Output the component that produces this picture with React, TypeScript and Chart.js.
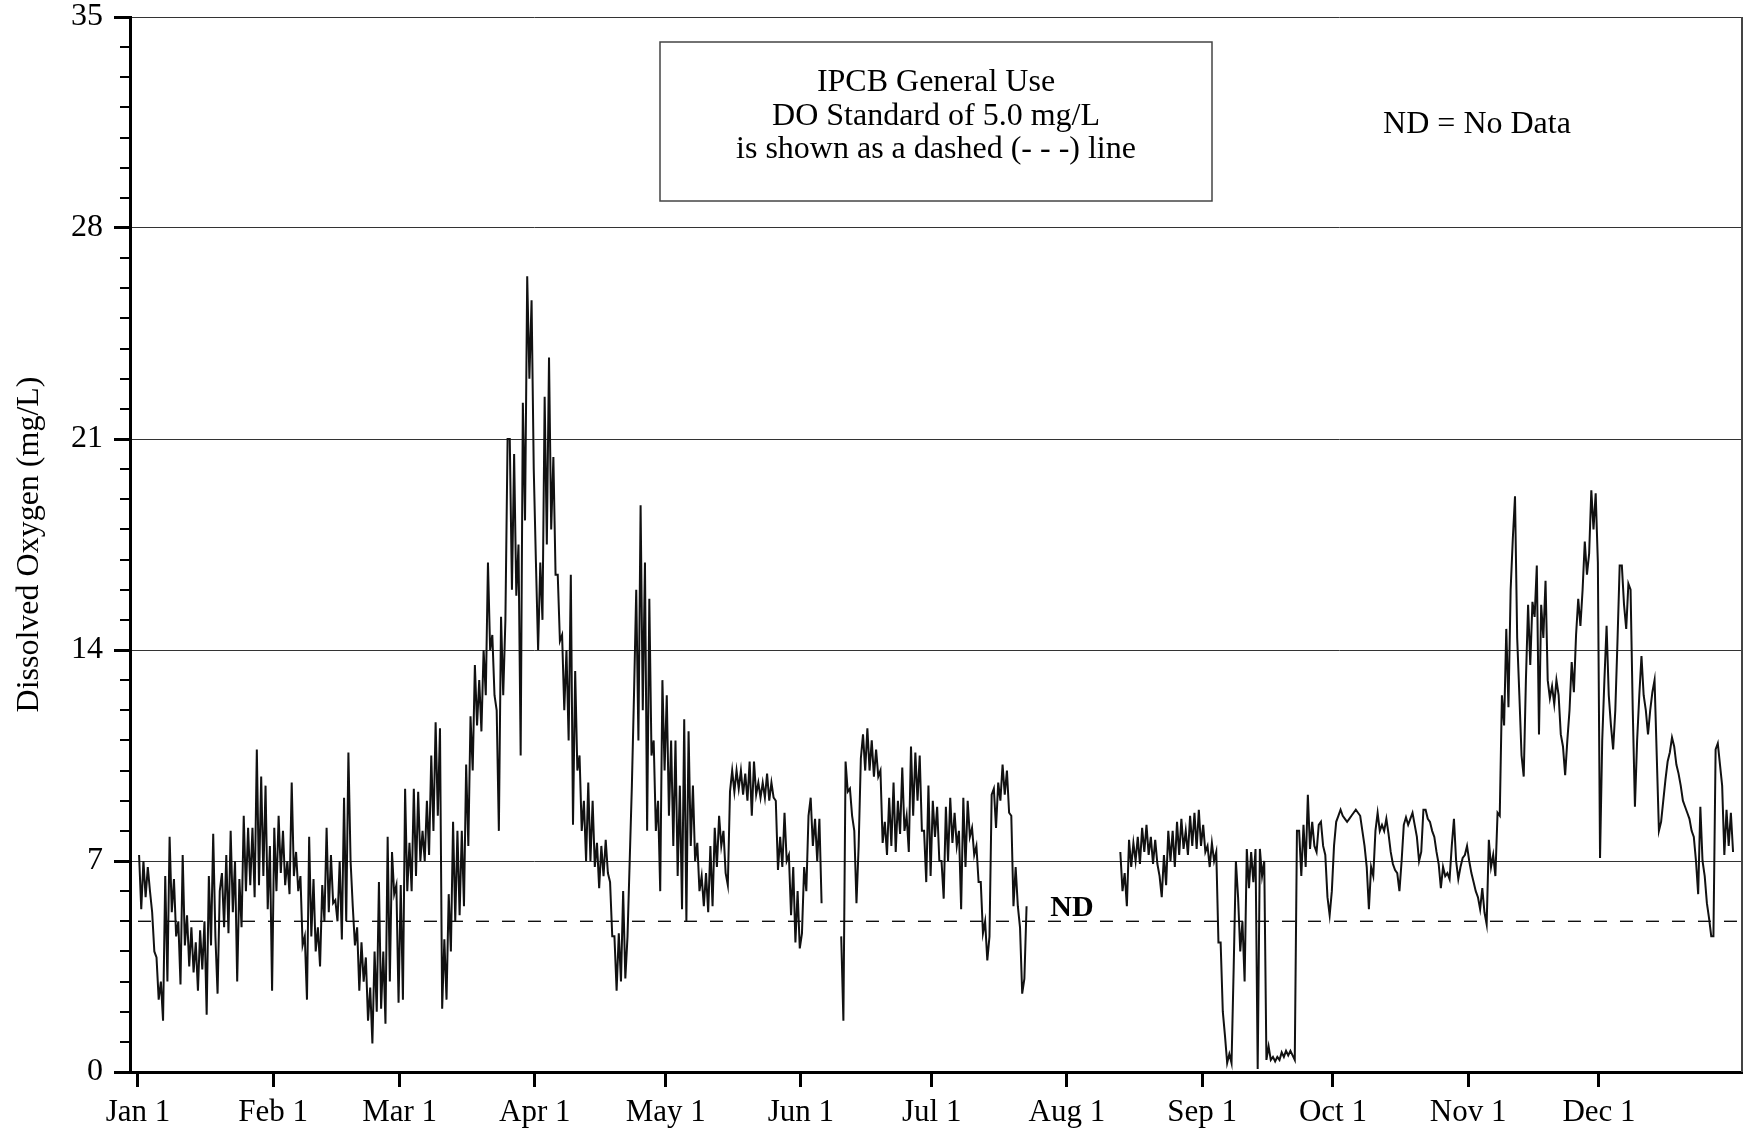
import React, { useEffect, useRef } from 'react';
import { Chart, registerables } from 'chart.js';

Chart.register(...registerables);

type Pair = [number, number] | null;

// Tick labels and positions (day of year, leap year, Jan 1 = day 0)
const monthLabels = ['Jan 1', 'Feb 1', 'Mar 1', 'Apr 1', 'May 1', 'Jun 1', 'Jul 1', 'Aug 1', 'Sep 1', 'Oct 1', 'Nov 1', 'Dec 1'];
const monthStartDays = [0, 31, 60, 91, 121, 152, 182, 213, 244, 274, 305, 335];
const yTickValues = [0, 7, 14, 21, 28, 35];
const doStandard = 5.0;

// Dissolved oxygen (mg/L), two readings per day (morning, evening); null = no data
const janDO: Pair[] = [
  [7.2, 5.4], [7.0, 5.8], [6.8, 6.0], [5.3, 4.0], [3.8, 2.4],
  [3.0, 1.7], [6.5, 3.0], [7.8, 5.3], [6.4, 4.5], [5.0, 2.9],
  [7.2, 4.2], [5.2, 3.5], [4.8, 3.3], [4.3, 2.7], [4.7, 3.4],
  [5.0, 1.9], [6.5, 4.2], [7.9, 4.5], [2.6, 6.0], [6.6, 4.8],
  [7.2, 4.6], [8.0, 5.3], [7.0, 3.0], [6.4, 4.8], [8.5, 6.0],
  [8.1, 6.2], [8.1, 5.8], [10.7, 6.2], [9.8, 6.5], [9.5, 5.4],
  [7.5, 2.7],
];
const febDO: Pair[] = [
  [8.1, 6.0], [8.5, 6.6], [8.0, 6.2], [7.0, 5.9], [9.6, 6.5],
  [7.3, 6.0], [6.5, 4.2], [4.5, 2.4], [7.8, 4.5], [6.4, 4.0],
  [4.8, 3.5], [6.2, 5.0], [8.1, 5.3], [7.2, 5.6], [5.7, 5.0],
  [7.0, 4.4], [9.1, 5.0], [10.6, 7.0], [5.5, 4.2], [4.8, 2.7],
  [4.3, 3.0], [3.8, 1.7], [2.8, 0.95], [4.0, 2.0], [6.3, 2.1],
  [4.0, 1.6], [7.8, 3.0], [7.3, 5.9], [6.2, 2.3],
];
const marDO: Pair[] = [
  [6.2, 2.4], [9.4, 6.0], [7.6, 6.0], [9.4, 6.5], [9.3, 7.0],
  [8.0, 7.0], [9.0, 7.2], [10.5, 8.0], [11.6, 8.5], [11.4, 2.1],
  [4.4, 2.4], [5.9, 4.0], [8.3, 5.0], [8.0, 5.2], [8.0, 5.5],
  [10.2, 7.5], [11.8, 10.0], [13.5, 11.5], [13.0, 11.3], [14.0, 12.5],
  [16.9, 14.0], [14.5, 12.5], [12.0, 8.0], [15.1, 12.5], [15.0, 21.0],
  [21.0, 16.0], [20.5, 15.8], [17.5, 10.5], [22.2, 18.3], [26.4, 23.0],
  [25.6, 20.0],
];
const aprDO: Pair[] = [
  [16.9, 14.0], [16.9, 15.0], [22.4, 17.5], [23.7, 18.0], [20.4, 16.5],
  [16.5, 14.3], [14.5, 12.0], [14.0, 11.0], [16.5, 8.2], [13.3, 10.0],
  [10.5, 8.0], [9.0, 7.0], [9.6, 7.0], [9.0, 6.8], [7.6, 6.1],
  [7.5, 6.5], [7.7, 6.6], [6.3, 4.5], [4.5, 2.7], [4.6, 3.0],
  [6.0, 3.1], [4.5, 7.0], [9.5, 12.6], [16.0, 11.0], [18.8, 12.0],
  [16.9, 8.0], [15.7, 10.5], [11.0, 8.0], [9.0, 6.0], [13.0, 10.0],
];
const mayDO: Pair[] = [
  [12.5, 8.5], [11.0, 7.5], [11.0, 6.5], [9.5, 5.4], [11.7, 5.0],
  [11.3, 7.5], [9.5, 7.0], [7.6, 6.0], [6.5, 5.5], [6.6, 5.3],
  [7.5, 5.5], [8.1, 6.8], [8.5, 7.5], [8.0, 6.6], [6.2, 9.3],
  [10.0, 9.3], [10.0, 9.4], [10.0, 9.2], [9.9, 9.0], [10.3, 8.5],
  [10.3, 9.2], [9.6, 9.1], [9.6, 9.1], [9.9, 9.0], [9.6, 9.1],
  [9.0, 6.7], [7.8, 6.8], [8.6, 7.0], [7.2, 5.2], [6.8, 4.3],
  [6.0, 4.1],
];
const junDO: Pair[] = [
  [4.6, 6.8], [6.0, 8.5], [9.1, 7.5], [8.4, 7.0], [8.4, 5.6],
  null, null, null, null, [4.5, 1.7],
  [10.3, 9.3], [9.4, 8.5], [8.0, 5.6], [7.5, 10.4], [11.2, 10.0],
  [11.4, 10.0], [11.0, 9.8], [10.7, 9.8], [10.0, 7.6], [8.3, 7.2],
  [9.1, 7.5], [9.6, 7.3], [9.0, 7.9], [10.1, 8.0], [8.5, 7.3],
  [10.8, 8.5], [10.6, 9.0], [10.5, 8.0], [8.0, 6.3], [9.5, 6.5],
];
const julDO: Pair[] = [
  [9.0, 7.8], [8.8, 7.0], [7.0, 5.75], [8.8, 7.0], [9.1, 7.6],
  [8.6, 7.5], [8.0, 5.4], [9.1, 6.8], [9.0, 7.8], [8.1, 7.2],
  [7.5, 6.3], [6.3, 4.6], [5.0, 3.7], [4.5, 9.2], [9.4, 8.1],
  [9.6, 9.0], [10.2, 9.2], [10.0, 8.6], [8.5, 5.5], [6.8, 5.5],
  [4.8, 2.6], [3.1, 5.5], null, null, null,
  null, null, null, null, null,
  null,
];
const augDO: Pair[] = [
  null, null, null, null, null, null, null, null, null, null, null, null,
  [7.3, 6.0], [6.6, 5.5], [7.7, 6.8], [7.6, 7.0], [7.8, 6.9],
  [8.1, 7.3], [8.2, 7.2], [7.8, 6.9], [7.7, 6.9], [6.5, 5.8],
  [7.2, 6.2], [8.0, 7.0], [8.0, 6.8], [8.3, 7.2], [8.4, 7.4],
  [8.0, 7.2], [8.5, 7.5], [8.6, 7.4], [8.7, 7.5],
];
const sepDO: Pair[] = [
  [8.2, 7.3], [7.5, 6.8], [7.6, 7.0], [7.3, 4.3], [4.3, 2.0],
  [1.2, 0.3], [0.6, 0.3], [3.5, 7.0], [5.8, 4.0], [5.0, 3.0],
  [7.4, 6.1], [7.3, 6.3], [7.4, 0.1], [7.4, 6.5], [7.0, 0.4],
  [0.85, 0.4], [0.5, 0.35], [0.5, 0.4], [0.65, 0.5], [0.7, 0.55],
  [0.7, 0.55], [0.4, 8.0], [8.0, 6.5], [8.2, 6.8], [9.2, 7.4],
  [8.3, 7.5], [7.3, 8.2], [8.3, 7.5], [7.2, 5.8], [5.2, 6.0],
];
const octDO: Pair[] = [
  [7.5, 8.3], [8.5, 8.7], [8.5, 8.4], [8.3, 8.4], [8.5, 8.6],
  [8.7, 8.6], [8.5, 8.0], [7.5, 6.8], [5.4, 6.8], [6.5, 8.0],
  [8.6, 8.0], [8.2, 8.0], [8.4, 7.9], [7.3, 6.9], [6.7, 6.6],
  [6.0, 7.0], [8.2, 8.45], [8.2, 8.4], [8.6, 8.2], [7.8, 7.0],
  [7.3, 8.7], [8.7, 8.4], [8.3, 8.0], [7.8, 7.3], [6.9, 6.1],
  [6.8, 6.5], [6.6, 6.4], [7.5, 8.4], [7.0, 6.4], [6.8, 7.1],
  [7.2, 7.5],
];
const novDO: Pair[] = [
  [7.0, 6.6], [6.3, 6.0], [5.8, 5.4], [6.1, 5.3], [4.9, 7.7],
  [6.8, 7.2], [6.5, 8.6], [8.5, 12.5], [11.5, 14.7], [12.1, 16.0],
  [17.7, 19.1], [14.4, 12.5], [10.5, 9.8], [13.0, 15.5], [13.5, 15.6],
  [15.1, 16.8], [11.2, 15.5], [14.4, 16.3], [13.0, 12.4], [12.8, 12.2],
  [13.0, 12.5], [11.2, 10.8], [9.85, 11.0], [12.0, 13.6], [12.6, 14.5],
  [15.7, 14.8], [16.0, 17.6], [16.5, 17.2], [19.3, 18.0], [19.2, 16.9],
];
const decDO: Pair[] = [
  [7.1, 11.0], [13.0, 14.8], [12.5, 11.5], [10.7, 12.0], [14.3, 16.8],
  [16.8, 15.5], [14.7, 16.2], [16.0, 12.0], [8.8, 11.0], [12.5, 13.8],
  [12.5, 12.0], [11.2, 12.0], [12.6, 13.0], [10.5, 8.0], [8.3, 9.0],
  [9.7, 10.3], [10.6, 11.1], [10.8, 10.2], [9.9, 9.5], [9.0, 8.8],
  [8.6, 8.4], [8.0, 7.8], [7.0, 5.9], [8.8, 7.0], [6.5, 5.6],
  [5.1, 4.5], [4.5, 10.7], [10.9, 10.2], [9.5, 7.2], [8.7, 7.5],
  [8.6, 7.3],
];

const monthlyDO: Pair[][] = [janDO, febDO, marDO, aprDO, mayDO, junDO, julDO, augDO, sepDO, octDO, novDO, decDO];

const FONT = "'Liberation Serif', 'Times New Roman', Times, serif";

function buildSeries() {
  const pts: { x: number; y: number | null }[] = [];
  monthlyDO.forEach((month, mi) => {
    month.forEach((pair, di) => {
      const day = monthStartDays[mi] + di;
      if (pair === null) {
        pts.push({ x: day + 0.25, y: null });
        pts.push({ x: day + 0.75, y: null });
      } else {
        pts.push({ x: day + 0.25, y: pair[0] });
        pts.push({ x: day + 0.75, y: pair[1] });
      }
    });
  });
  return pts;
}

const notesPlugin = {
  id: 'notes',
  afterDraw(chart: any) {
    const { ctx, chartArea, scales } = chart;
    const y = scales.y;
    ctx.save();
    // minor ticks on y axis
    ctx.strokeStyle = '#000';
    ctx.lineWidth = 2;
    for (let v = 1; v < 35; v++) {
      if (v % 7 === 0) continue;
      const py = Math.round(y.getPixelForValue(v));
      ctx.beginPath();
      ctx.moveTo(chartArea.left - 10, py);
      ctx.lineTo(chartArea.left, py);
      ctx.stroke();
    }
    // right border
    ctx.strokeStyle = '#444';
    ctx.lineWidth = 2;
    ctx.beginPath();
    ctx.moveTo(chartArea.right, chartArea.top);
    ctx.lineTo(chartArea.right, chartArea.bottom);
    ctx.stroke();

    // note box
    ctx.strokeStyle = '#444';
    ctx.lineWidth = 1.5;
    ctx.strokeRect(660, 42, 552, 159);
    ctx.fillStyle = '#000';
    ctx.textAlign = 'center';
    ctx.textBaseline = 'middle';
    ctx.font = `32px ${FONT}`;
    ctx.fillText('IPCB General Use', 936, 83);
    ctx.fillText('DO Standard of 5.0 mg/L', 936, 117);
    ctx.fillText('is shown as a dashed (- - -) line', 936, 150);

    ctx.font = `32px ${FONT}`;
    ctx.fillText('ND = No Data', 1477, 125);

    ctx.font = `bold 30px ${FONT}`;
    ctx.fillText('ND', 1072, 908);
    ctx.restore();
  },
};

export default function App() {
  const ref = useRef<HTMLCanvasElement>(null);
  useEffect(() => {
    if (!ref.current) return;
    const series = buildSeries();
    const chart = new Chart(ref.current, {
      type: 'line',
      data: {
        datasets: [
          {
            label: 'Dissolved Oxygen',
            data: series as any,
            borderColor: '#111',
            borderWidth: 2,
            pointRadius: 0,
            tension: 0,
            spanGaps: false,
            order: 0,
          },
          {
            label: 'DO Standard',
            data: [{ x: 0, y: doStandard }, { x: 367.8, y: doStandard }] as any,
            borderColor: '#000',
            borderWidth: 1.3,
            borderDash: [13, 13],
            pointRadius: 0,
            order: 1,
          },
        ],
      },
      options: {
        animation: false,
        responsive: false,
        maintainAspectRatio: false,
        layout: { padding: { top: 17, right: 3, left: 0, bottom: 0 } },
        plugins: { legend: { display: false }, tooltip: { enabled: false } },
        scales: {
          x: {
            type: 'linear',
            min: -1.83,
            max: 367.8,
            afterBuildTicks: (s: any) => {
              s.ticks = monthStartDays.map((v) => ({ value: v }));
            },
            afterFit: (s: any) => {
              s.height = 56;
              s.paddingLeft = 0;
              s.paddingRight = 0;
            },
            ticks: {
              autoSkip: false,
              maxRotation: 0,
              minRotation: 0,
              padding: 7,
              color: '#000',
              font: { family: FONT, size: 31 },
              callback: (v: any) => {
                const i = monthStartDays.indexOf(Number(v));
                return i >= 0 ? monthLabels[i] : '';
              },
            },
            grid: {
              drawOnChartArea: false,
              drawTicks: true,
              tickLength: 15,
              tickWidth: 3,
              tickColor: '#000',
            },
            border: { display: true, color: '#000', width: 3 },
          },
          y: {
            type: 'linear',
            min: 0,
            max: 35,
            afterBuildTicks: (s: any) => {
              s.ticks = yTickValues.map((v) => ({ value: v }));
            },
            afterFit: (s: any) => {
              s.width = 130;
              s.paddingTop = 0;
              s.paddingBottom = 0;
            },
            ticks: {
              padding: 11,
              color: '#000',
              font: { family: FONT, size: 32 },
              callback: (v: any) => String(v),
            },
            grid: {
              color: (c: any) => (c.tick && c.tick.value === 0 ? 'rgba(0,0,0,0)' : '#333'),
              lineWidth: 1,
              drawTicks: true,
              tickLength: 16,
              tickWidth: 3,
              tickColor: '#000',
            },
            border: { display: true, color: '#000', width: 3 },
            title: {
              display: true,
              text: 'Dissolved Oxygen (mg/L)',
              color: '#000',
              font: { family: FONT, size: 32 },
              padding: { top: 10, bottom: 0 },
            },
          },
        },
      },
      plugins: [notesPlugin],
    } as any);
    return () => chart.destroy();
  }, []);
  return (
    <div style={{ position: 'fixed', left: 0, top: 0, width: 1745, height: 1128, background: '#fff' }}>
      <canvas ref={ref} width={1745} height={1128} style={{ display: 'block', width: 1745, height: 1128 }} />
    </div>
  );
}
